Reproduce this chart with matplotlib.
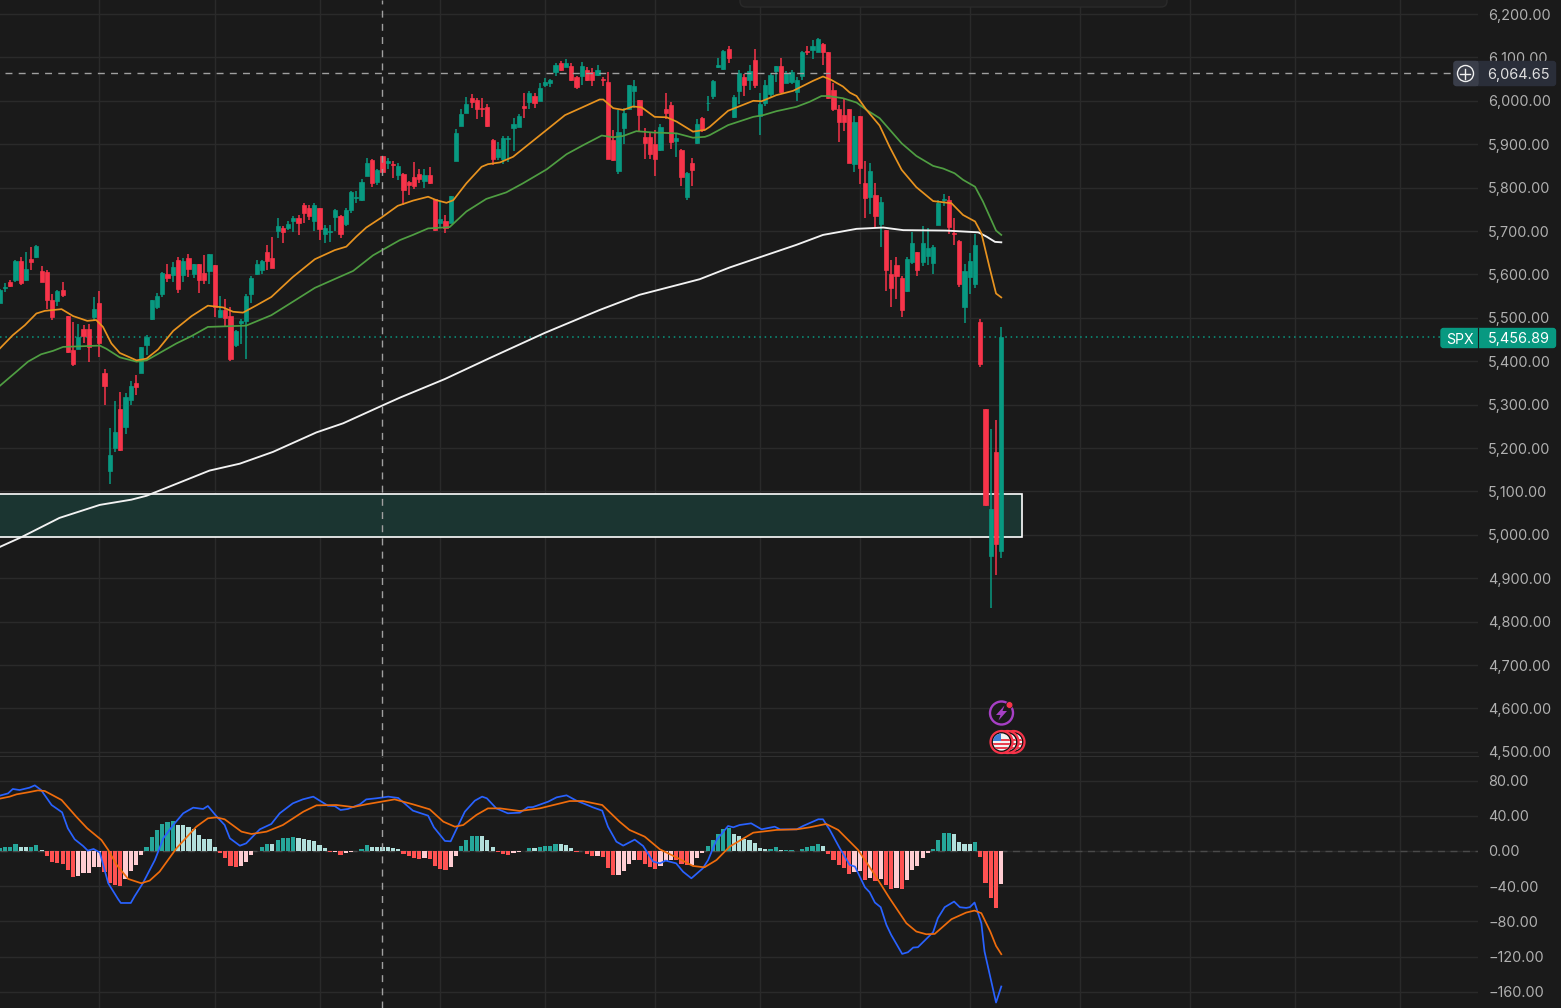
import numpy as np
import matplotlib
matplotlib.use('Agg')
import matplotlib.pyplot as plt
from matplotlib.patches import Rectangle, Circle, FancyBboxPatch, Polygon

# candles, one entry per bar
opens = [5535,5569,5583,5587,5631,5587,5635,5639,5608,5606,
         5541,5539,5563,5504,5426,5429,5475,5475,5501,5535,
         5374,5147,5201,5290,5249,5310,5349,5373,5437,5497,
         5525,5554,5601,5598,5634,5598,5637,5600,5623,5604,
         5608,5621,5501,5518,5504,5437,5487,5493,5554,5600,
         5611,5652,5638,5700,5707,5707,5723,5731,5760,5752,
         5723,5754,5694,5697,5733,5735,5716,5749,5776,5771,
         5827,5864,5814,5872,5857,5855,5829,5831,5814,5824,
         5831,5816,5829,5773,5719,5722,5719,5862,5943,5973,
         6006,6002,5983,5986,5909,5870,5865,5911,5937,5940,
         5989,5997,6012,6000,6036,6040,6066,6086,6077,6080,
         6055,6057,6071,6066,6059,6051,6043,5909,5838,5937,
         5980,6023,6003,5917,5917,5900,5887,5980,5990,5907,
         5887,5778,5856,5902,5960,5994,6012,6077,6073,6119,
         5963,6023,6054,6048,6094,5965,5994,6016,6069,6080,
         6042,6044,6021,6058,6115,6117,6113,6132,6112,6024,
         5980,5967,5980,5854,5966,5810,5779,5783,5716,5702,
         5600,5622,5591,5561,5629,5652,5629,5642,5627,5715,
         5771,5771,5695,5677,5525,5595,5577,5490,5289,4951,
         5190,4963]
closes = [5564,5571,5573,5631,5581,5612,5628,5665,5583,5541,
          5501,5562,5552,5422,5393,5456,5459,5432,5520,5442,
          5343,5184,5237,5195,5317,5343,5341,5432,5455,5541,
          5551,5604,5592,5618,5566,5631,5612,5624,5588,5587,
          5646,5524,5518,5500,5404,5469,5493,5551,5592,5624,
          5631,5631,5614,5711,5698,5716,5730,5719,5741,5735,
          5760,5705,5707,5699,5748,5693,5748,5789,5778,5812,
          5857,5811,5840,5837,5862,5851,5849,5794,5806,5804,
          5819,5829,5810,5702,5727,5708,5780,5926,5970,5993,
          5997,5980,5981,5943,5866,5890,5914,5915,5946,5966,
          5984,6019,5994,6029,6044,6048,6083,6071,6087,6048,
          6031,6080,6048,6048,6071,6048,5867,5863,5928,5971,
          6037,6034,5967,5903,5877,5866,5939,5973,5906,5914,
          5824,5834,5841,5947,5933,5996,6046,6083,6115,6098,
          6008,6065,6036,6068,6037,5993,6036,6059,6081,6021,
          6063,6066,6049,6112,6112,6126,6142,6113,6007,5980,
          5951,5951,5857,5952,5846,5775,5839,5735,5768,5610,
          5569,5596,5518,5635,5672,5610,5672,5661,5664,5765,
          5774,5710,5692,5577,5609,5631,5668,5393,5069,5059,
          4980,5456.89]
highs = [5566,5581,5588,5633,5639,5652,5664,5667,5619,5611,
         5554,5565,5583,5504,5491,5485,5483,5485,5547,5562,
         5381,5247,5309,5328,5326,5355,5368,5433,5460,5542,
         5558,5606,5625,5629,5639,5637,5648,5625,5624,5644,
         5648,5621,5551,5543,5525,5473,5497,5556,5597,5633,
         5633,5667,5687,5729,5712,5722,5735,5737,5765,5761,
         5764,5754,5714,5715,5750,5737,5754,5793,5792,5819,
         5868,5867,5844,5872,5869,5862,5857,5833,5815,5860,
         5842,5844,5847,5773,5768,5738,5781,5934,5980,6009,
         6015,6006,6006,5992,5913,5906,5920,5919,5960,5969,
         6017,6023,6017,6042,6052,6050,6086,6091,6097,6086,
         6058,6089,6077,6075,6082,6054,6067,5933,5979,5983,
         6037,6047,6003,5937,5927,5933,5946,6019,5998,5925,
         5888,5837,5869,5958,5962,6012,6048,6098,6117,6126,
         6013,6071,6062,6082,6119,6017,6048,6063,6081,6098,
         6069,6071,6056,6115,6126,6140,6144,6134,6112,6040,
         5990,6004,5980,5965,5966,5862,5857,5810,5779,5702,
         5633,5639,5596,5641,5698,5652,5711,5708,5668,5771,
         5785,5781,5729,5679,5625,5649,5693,5497,5290,5244,
         5265,5478]
lows = [5533,5560,5571,5583,5575,5585,5611,5637,5583,5520,
        5495,5527,5548,5418,5389,5428,5442,5399,5495,5409,
        5299,5117,5191,5194,5232,5299,5322,5373,5414,5496,
        5521,5548,5583,5583,5558,5583,5594,5592,5558,5579,
        5579,5501,5499,5479,5400,5433,5439,5404,5533,5598,
        5602,5611,5614,5683,5673,5702,5697,5690,5719,5725,
        5701,5679,5672,5675,5701,5683,5712,5742,5764,5770,
        5827,5802,5806,5837,5843,5823,5818,5761,5783,5797,
        5810,5800,5808,5701,5706,5695,5718,5861,5942,5971,
        5983,5957,5962,5940,5852,5864,5854,5860,5884,5940,
        5961,5981,5983,5999,6031,6031,6058,6069,6077,6046,
        6027,6036,6046,6034,6058,6033,5866,5861,5831,5900,
        5979,5983,5929,5866,5866,5827,5885,5957,5888,5871,
        5804,5771,5804,5900,5929,5976,6004,6075,6072,6086,
        5961,5993,6011,6025,6029,5921,5988,6007,6044,6017,
        6040,6039,5999,6048,6106,6096,6112,6082,6004,5976,
        5906,5930,5856,5837,5808,5731,5739,5710,5664,5562,
        5526,5544,5503,5560,5625,5596,5619,5622,5601,5714,
        5758,5692,5668,5570,5487,5556,5569,5387,5066,4832,
        4907,4946]

# moving averages, read at the bar positions in *_x
orange_x = [0,2.5,4.8,7,8.6,11.8,14,16.7,18.4,19.7,21.3,22.9,26.1,28,30.2,33.1,36.6,39.7,42.6,44.5,46.4,49,51.8,55.9,60.1,
            63.9,66.1,68,69.9,72.8,75.9,78.8,81.7,83.3,85.2,86.5,89,91.9,93.1,95.4,97.9,101.1,104.3,107.8,111.3,114.4,115.1,
            117,118.9,120.8,122.4,124.9,127.2,129.1,132.2,134.5,135.4,138.9,143.7,145.3,148.1,151.3,155.1,157,158.6,160.8,
            162.1,163.4,165.3,167.8,169.7,172,174.8,178,181.5,183.7,186,187.2,188.8,190,191]
orange_y = [5429,5460,5483,5510,5516,5520,5504,5493,5495,5479,5441,5419,5402,5406,5427,5470,5504,5528,5524,5514,5512,5529,5548,5594,5635,
            5656,5664,5687,5708,5731,5758,5770,5779,5771,5765,5771,5810,5848,5854,5858,5871,5902,5933,5967,5986,6003,6003,
            5983,5979,5987,5985,5963,5962,5952,5929,5933,5940,5977,6000,5999,6013,6023,6046,6056,6048,6033,
            6019,6011,5979,5943,5894,5841,5801,5769,5764,5737,5722,5695,5614,5556,5547]
green_x = [0,3.2,5.4,7.9,10.2,12.1,19.1,20.3,22.9,26.1,28,30.5,33.7,36.6,39.7,44.5,47,51.8,55.9,60.1,64.2,67.4,71.2,76.3,
           78.8,81.7,85.8,89,92.8,96.6,99.8,104.3,108.1,111.3,114.8,117,118.9,121.4,124.6,129.1,132.2,134.5,135.4,138.9,
           143.7,145.6,148.1,151.9,154.5,156.7,158,160.8,163.4,165.3,167.8,172,174.8,178,179.9,182.1,183.7,186,187.5,190,191]
green_y = [5343,5376,5399,5416,5424,5433,5436,5429,5409,5399,5402,5419,5441,5458,5479,5481,5482,5506,5537,5569,5591,5608,5644,5679,
           5691,5706,5709,5745,5774,5789,5810,5842,5877,5898,5920,5916,5919,5930,5927,5925,5915,5917,5921,5944,
           5963,5967,5976,5986,5998,6011,6011,6006,5996,5979,5960,5902,5873,5850,5844,5833,5818,5802,5768,5701,5691]
white_x = [0,4.2,11.4,19.1,25.1,28,40,45.8,52.1,60.4,65.5,72.8,76.3,84.9,93.4,103.9,114.4,122,131.6,133.5,139.2,151.9,157,163.4,168.5,172.3,180.5,186.6,188.2,189.8,191]
white_y = [4972,4995,5039,5069,5081,5090,5148,5164,5191,5236,5257,5297,5316,5359,5407,5465,5518,5553,5583,5589,5616,5668,5691,5705,5708,5702,5701,5697,5687,5675,5674]

# MACD histogram, one entry per bar
hist = [3,4,4,7.5,5,4.9,5,6.5,1,-5.5,
        -12.5,-13.5,-14.5,-22,-29,-28,-25.5,-25,-18.5,-18.4,
        -24,-36,-38.5,-40,-32,-23,-16,-4.5,4.5,16,
        23.5,30.5,32.5,33.5,30,29.9,27,25,18.5,14,
        13.9,5,-2.5,-7.5,-16.5,-18.5,-17,-12,-5,0.5,
        5,7.5,7.4,13,15,15,16,15,14,12,
        11,7,3,-1.5,-1,-4,-2.5,-1,0.5,2.5,
        6.5,4.9,4.8,4.5,4.4,3.5,2,-3,-6,-8.5,
        -8.6,-8,-9,-17,-20,-22,-18,-5.5,5.5,13,
        17.5,17.5,16.5,13,4,-1,-3,-4,-2.5,-1.5,
        0.5,3.5,3.4,5,6,6,8,7.9,7,3.5,
        -1,-0.5,-3,-5.5,-5.4,-7,-19,-27,-26.9,-22.5,
        -15,-10,-10.5,-14.5,-18.5,-20.5,-17,-11,-10,-10.2,
        -14.5,-16,-15.9,-7.5,-2,5.5,12.5,19,24.5,26,
        19,17.5,14,13,9.5,3.5,2,2.5,4,1,
        1,1,-0.5,2.5,4.5,6,8,6,-3,-10,
        -16,-19,-26.5,-24,-22.5,-32.5,-31,-33.5,-32,-38.5,
        -43,-41.5,-43,-33,-22,-17,-8.5,-2.5,2.5,13,
        20.5,20.5,19,10.5,7.5,7.4,10,-6.5,-36,-53,
        -65,-37.7]

macd_x = [0,1.6,2.5,3.8,5.7,6.7,7.9,9.9,11.9,13,14.3,15.9,16.8,17.9,19.1,20.7,22.6,23.1,25,25.7,27.3,29.6,31.2,33.1,35,36.9,38.8,39.7,
          41.3,42.9,43.9,45.8,47,49.6,51.8,53.4,55.9,57.8,59.8,62.6,63.9,65,66.4,68.7,69.9,71.8,74.1,76,78.8,81.7,82.8,84.9,86,88.7,
          90.6,92,92.9,94.7,96.9,99.2,100.7,101.7,104.6,106.2,108.1,110,111.6,113.1,114.9,116,117.6,118.9,121.1,122.7,124.6,125.9,
          127,129,130.3,131.9,134.1,135.1,136.7,138.9,139.9,141.1,143.3,145.3,147.8,148.8,152,153.2,156.1,157,158.3,160.2,162.1,
          163.1,165,165.9,166.9,168,169.1,170,172.1,173.2,174.2,175.1,178,178.9,180.2,182,183.1,184.3,185,185.9,187.2,187.8,190,191]
macd_y = [62.8,65.4,70.4,69.2,71.9,74.5,69.2,52.2,43.9,25.7,13.3,5.7,0.4,2.3,-1.8,-36.6,-54.8,-59,-59,-51.7,-36.6,-10.2,14.4,29.5,42.8,49.2,47.7,51.1,
          39.7,29.5,14.4,6,8.7,24.6,30.7,42.8,54.1,58.6,61.7,51.4,51,46.5,47.7,53,58.6,59.8,61.7,60.2,45.8,40.1,26.9,11.4,11,44.6,
          57.1,61.7,59.8,48.4,42.8,43.5,49.6,49.9,56,60.9,63.2,57.1,53.3,49.6,45.8,27.6,10.6,6.1,12.9,5.7,-12,-14,
          -10.9,-14,-23.4,-31,-19.6,-10.2,12.5,28.4,26.9,29.5,31.4,24.6,27.6,24.6,24.6,28.4,36,36,23.9,3.1,-15.8,
          -17.7,-41.2,-46.8,-58.5,-63.8,-83.9,-95.2,-116.8,-114.9,-109.6,-109.2,-92.2,-76.3,-63.8,-57.4,-63.8,-64.6,-63.8,-58.5,-82,-114,-172,-153.8]
signal_x = [0,1.9,3.2,5.4,7.3,8.6,11.8,14.6,16.7,19.4,20.7,22.3,24.5,27,28.6,30.5,33.7,37.5,39.7,41.3,42.9,46.1,48,50.9,54,57.9,60.4,64.2,
            67.4,69.9,75.3,78.8,82,84.6,86.8,88.4,90.9,93.1,95.4,99.2,103,108.7,111.2,114.9,118.2,120.1,123,125.9,129.4,132.2,134.4,136.7,
            139.2,143.7,148.1,152,154.5,157.6,159.9,163.7,166.9,169.7,172.9,174.8,176.7,178.3,181.5,184.3,185.9,187.2,188.9,190,191]
signal_y = [59.4,61.7,64.3,66.6,68.8,68.1,57.9,39,25.7,12.5,1.2,-15.8,-31.7,-36.6,-33.6,-23.4,3,27.6,37.1,38.2,36,22,19.3,22,29.5,44.6,51.8,52.2,
            49.9,53,58.6,53,47.3,33.3,27.6,29.5,40.9,48.4,48.4,45.4,48.4,56.7,56.7,52.2,33.3,23.9,16.3,1.9,-8.3,-17,-18.5,-10.2,
            5,20.8,23.9,24.6,26.9,30.7,23.9,1.2,-27.2,-53.6,-82,-91.4,-94.5,-94.1,-77.4,-69.9,-67.6,-70.6,-91.4,-107.7,-117.1]

price_ticks = [6200,6100,6000,5900,5800,5700,5600,5500,5400,5300,5200,5100,5000,4900,4800,4700,4600,4500]
macd_ticks = [80,40,0,-40,-80,-120,-160]
grid_bars = [19,41,61,84,104,125,145,164,185,206,227,247,267]
crosshair_bar = 73
crosshair_price = 6064.65
last_price = 5456.89
zone_low, zone_high = 4995, 5093
zone_end_bar = 194.9

bg = '#1a1a1a'
grid_c = '#2a2a2a'
label_c = '#b0b0b0'
up_c = '#089981'
down_c = '#f7344a'
font = ['Inter', 'DejaVu Sans']
W, H = 1561, 1008
plot_w = 1478
bar_px = 5.244

plt.rcParams['font.family'] = font
fig = plt.figure(figsize=(W / 100, H / 100), dpi=100, facecolor=bg)
ax = fig.add_axes([0, 1 - 756 / H, plot_w / W, 756 / H], facecolor=bg)
ax2 = fig.add_axes([0, 0, plot_w / W, 251 / H], facecolor=bg)

xlim = (0.06, 0.06 + plot_w / bar_px)
for a in (ax, ax2):
    a.set_xlim(xlim)
    a.set_xticks(grid_bars)
    a.tick_params(axis='x', length=0, labelbottom=False)
    a.yaxis.tick_right()
    a.tick_params(axis='y', length=0, pad=7.2, labelsize=10.4, labelcolor=label_c)
    a.grid(True, color=grid_c, lw=1)
    a.set_axisbelow(True)
    for s in a.spines.values():
        s.set_visible(False)
    a.axvline(crosshair_bar, color='#a0a0a0', lw=1, dashes=(5, 4.5), zorder=6)

ax.set_ylim(6200 - 742 * 2.304, 6200 + 14 * 2.304)
ax.set_yticks(price_ticks)
ax.set_yticklabels([f'{p:,.2f}' for p in price_ticks])
ax2.set_ylim(-157 / 0.881, 94 / 0.881)
ax2.set_yticks(macd_ticks)
ax2.set_yticklabels([f'{m:.2f}'.replace('-', '\u2212') for m in macd_ticks])
ax.spines['bottom'].set_visible(True)
ax.spines['bottom'].set_color('#303030')

# price pane
ax.add_patch(Rectangle((-5, zone_low), zone_end_bar + 5, zone_high - zone_low,
                       facecolor='#1b3531', edgecolor='white', lw=1.2, zorder=1))
ax.axhline(last_price, color=up_c, lw=1.1, ls=(0, (1, 2.5)), zorder=1)
ax.plot([1, 277], [crosshair_price, crosshair_price], color='#a0a0a0', lw=1, dashes=(5, 4.5), zorder=6)

x = np.arange(len(opens))
o = np.array(opens, dtype=float)
c = np.array(closes, dtype=float)
col = [up_c if b >= a else down_c for a, b in zip(opens, closes)]
ax.vlines(x, lows, highs, colors=col, lw=1.1, zorder=3)
ax.bar(x, np.abs(c - o), bottom=np.minimum(o, c), width=0.8, color=col, edgecolor=col, lw=0.5, zorder=4)

ax.plot(white_x, white_y, color='#f2f2f2', lw=1.35, zorder=5)
ax.plot(green_x, green_y, color='#4f9e42', lw=1.25, zorder=5)
ax.plot(orange_x, orange_y, color='#e8931f', lw=1.25, zorder=5)

# macd pane
ax2.axhline(0, color='#4a4a4a', lw=1, dashes=(5, 4), zorder=1)
h_col = []
prev = 0
for v in hist:
    if v >= 0:
        h_col.append('#26a69a' if v >= prev else '#b2dfdb')
    else:
        h_col.append('#ff5252' if v < prev else '#ffcdd2')
    prev = v
ax2.bar(np.arange(len(hist)), hist, width=0.8, color=h_col, zorder=3)
ax2.plot(macd_x, macd_y, color='#2962ff', lw=1.25, zorder=4)
ax2.plot(signal_x, signal_y, color='#ef6c0c', lw=1.25, zorder=5)

# tags, toolbar edge and event icons sit on a pixel overlay
ov = fig.add_axes([0, 0, 1, 1], facecolor='none', zorder=10)
ov.set_xlim(0, W)
ov.set_ylim(H, 0)
ov.axis('off')

ov.add_patch(FancyBboxPatch((740, -20), 427, 27, boxstyle='round,pad=0,rounding_size=6',
                            facecolor='#202020', edgecolor='#2a2a2a', lw=1))

ov.add_patch(FancyBboxPatch((1454, 61.5), 101.5, 24, boxstyle='round,pad=0,rounding_size=2.5',
                            facecolor='#2a2e39', edgecolor='#2a2e39', lw=1))
ov.add_patch(FancyBboxPatch((1454, 61.5), 24, 24, boxstyle='round,pad=0,rounding_size=2.5',
                            facecolor='#3a3e4a', edgecolor='#3a3e4a', lw=1))
ov.add_patch(Rectangle((1470, 61), 8.5, 25, facecolor='#3a3e4a', edgecolor='none'))
ov.add_patch(Circle((1465.5, 73.5), 8, facecolor='none', edgecolor='#f0f0f0', lw=1))
ov.plot([1460.5, 1470.5], [73.5, 73.5], color='#f0f0f0', lw=1)
ov.plot([1465.5, 1465.5], [68.5, 78.5], color='#f0f0f0', lw=1)
ov.text(1518.5, 73.5, f'{crosshair_price:,.2f}', color='#e0e0e0', fontsize=10.4, ha='center', va='center_baseline')

ov.add_patch(FancyBboxPatch((1441, 328.5), 114.5, 19, boxstyle='round,pad=0,rounding_size=2.5',
                            facecolor=up_c, edgecolor=up_c, lw=1))
ov.plot([1478.5, 1478.5], [328, 348], color='#1a1a1a', lw=0.8)
ov.text(1459.5, 338, 'SPX', color='white', fontsize=10.2, ha='center', va='center_baseline')
ov.text(1518.5, 338, f'{last_price:,.2f}', color='white', fontsize=10.4, ha='center', va='center_baseline')

# lightning event
ov.add_patch(Circle((1001.5, 713), 11.5, facecolor='#1a1a1a', edgecolor='#a63fc4', lw=1.7))
ov.add_patch(Polygon([(1004.5, 705.5), (996, 715), (1000.5, 715), (998.5, 720.5), (1007, 711), (1002.5, 711)],
                     facecolor='#a63fc4', edgecolor='none'))
ov.add_patch(Circle((1009.5, 705), 3.4, facecolor='#f7344a', edgecolor='#1a1a1a', lw=0.5))

# stacked US flag events
for cx in [1013.5, 1007.5, 1001.5]:
    ov.add_patch(Circle((cx, 742), 11, facecolor='#111111', edgecolor='#f7344a', lw=1.6))
    disc = Circle((cx, 742), 8.6, facecolor='#f2f2f2', edgecolor='none')
    ov.add_patch(disc)
    stripes = ov.add_patch(Rectangle((cx - 9, 743), 18, 2.2, facecolor='#e8404f', edgecolor='none'))
    stripes.set_clip_path(disc)
    stripes = ov.add_patch(Rectangle((cx - 9, 747), 18, 2.4, facecolor='#e8404f', edgecolor='none'))
    stripes.set_clip_path(disc)
    stripes = ov.add_patch(Rectangle((cx - 9, 739), 18, 2, facecolor='#e8404f', edgecolor='none'))
    stripes.set_clip_path(disc)
    canton = ov.add_patch(Rectangle((cx - 9, 733), 9, 8, facecolor='#3f7fd6', edgecolor='none'))
    canton.set_clip_path(disc)

fig.savefig('out.png', dpi=100, facecolor=bg)
